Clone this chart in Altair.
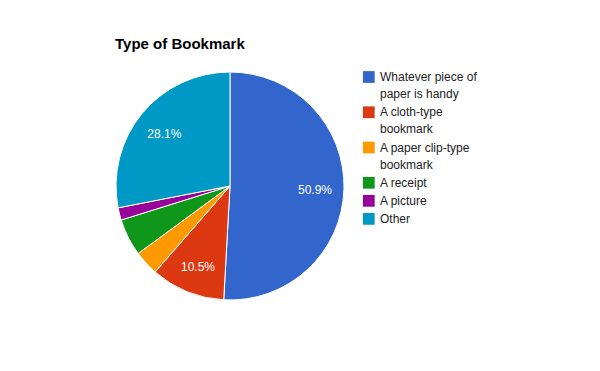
import altair as alt
import pandas as pd

categories = ["Whatever piece of paper is handy", "A cloth-type bookmark",
              "A paper clip-type bookmark", "A receipt", "A picture", "Other"]
counts = [29, 6, 2, 3, 1, 16]
colors = ["#3366cc", "#dc3912", "#ff9900", "#109618", "#990099", "#0099c6"]
legend_lines = {
    "Whatever piece of paper is handy": ["Whatever piece of", "paper is handy"],
    "A cloth-type bookmark": ["A cloth-type", "bookmark"],
    "A paper clip-type bookmark": ["A paper clip-type", "bookmark"],
}

FONT = "Liberation Sans"

df = pd.DataFrame({"category": categories, "count": counts, "order": list(range(len(categories)))})

# legend tables derived from the categories (line slots for wrapped labels)
sq_rows, line_rows = [], []
slot = 0
for i, cat in enumerate(categories):
    lines = legend_lines.get(cat, [cat])
    sq_rows.append({"category": cat, "slot": slot + i * 0.05})
    for j, ln in enumerate(lines):
        line_rows.append({"category": cat, "text": ln, "slot": slot + j + i * 0.05})
    slot += len(lines)
sq_df = pd.DataFrame(sq_rows)
line_df = pd.DataFrame(line_rows)

color_enc = alt.Color("category:N", scale=alt.Scale(domain=categories, range=colors))

base = alt.Chart(df).encode(
    theta=alt.Theta("count:Q", stack=True),
    order=alt.Order("order:Q"),
)

arcs = base.mark_arc(stroke="white", strokeWidth=1).encode(color=color_enc)

labels = base.transform_joinaggregate(total="sum(count)").transform_calculate(
    pct="datum.count / datum.total"
).transform_calculate(
    lab="datum.pct >= 0.1 ? format(datum.pct, '.1%') : ''"
).mark_text(radius=85, dy=2, font=FONT, fontSize=12, color="white", align="center", baseline="middle").encode(
    text="lab:N"
)

yscale = alt.Scale(domain=[0, 10], range=[5, 177])

leg_sq = alt.Chart(sq_df).mark_square(size=138, opacity=1, filled=True).encode(
    x=alt.value(252.8),
    y=alt.Y("slot:Q", scale=yscale, axis=None),
    color=color_enc,
)
leg_txt = alt.Chart(line_df).mark_text(font=FONT, fontSize=12, color="#222222",
                                       align="left", baseline="middle").encode(
    x=alt.value(264),
    y=alt.Y("slot:Q", scale=yscale, axis=None),
    text="text:N",
)

chart = alt.layer(arcs, labels, leg_sq, leg_txt).properties(
    width=228, height=228,
    title=alt.TitleParams("Type of Bookmark", anchor="start", font=FONT, fontSize=15,
                          fontWeight="bold", color="#000000", offset=18, dx=1),
    autosize=alt.AutoSizeParams(type="none"),
    padding={"left": 108, "top": 64, "right": 240, "bottom": 50},
).configure_view(strokeWidth=0).configure_legend(disable=True)

chart.save("out.html", embed_options={"renderer": "svg", "actions": False})
